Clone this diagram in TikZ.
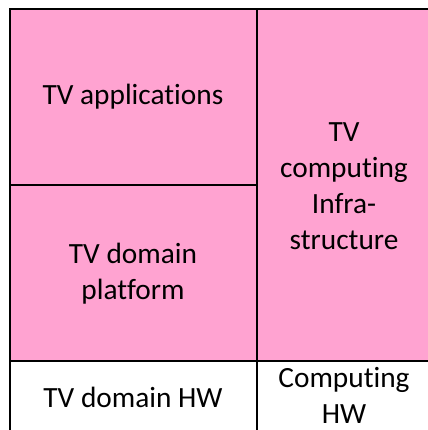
\documentclass[tikz,border=0pt]{standalone}
\usepackage{fontspec}
\setmainfont[Ligatures=NoCommon]{Carlito}
\usetikzlibrary{positioning}
\definecolor{tvpink}{RGB}{255,163,209}

\begin{document}
\begin{tikzpicture}[
    x=0.75pt, y=-0.75pt,
    block/.style={draw, line width=1.5pt},
    swblock/.style={block, fill=tvpink},
    blocktext/.style={align=center, font=\fontsize{22}{27}\selectfont}
]
\useasboundingbox (0,0) rectangle (428,430);

% Software layers
\draw[swblock] (10,9) rectangle (257,185);
\draw[swblock] (10,185) rectangle (257,361);
\draw[swblock] (257,9) rectangle (432,361);

% Hardware layer
\draw[block] (10,361) rectangle (257,436);
\draw[block] (257,361) rectangle (432,436);

% Labels
\node[blocktext] (apps) at (133,97) {TV applications};
\node[blocktext] (platform) at (133,274) {TV domain\\platform};
\node[blocktext] (infra) at (344,186) {TV\\computing\\Infra-\\structure};
\node[blocktext] (tvhw) at (133,397) {TV domain HW};
\node[blocktext] (comphw) at (344,395) {Computing\\HW};

\end{tikzpicture}
\end{document}
